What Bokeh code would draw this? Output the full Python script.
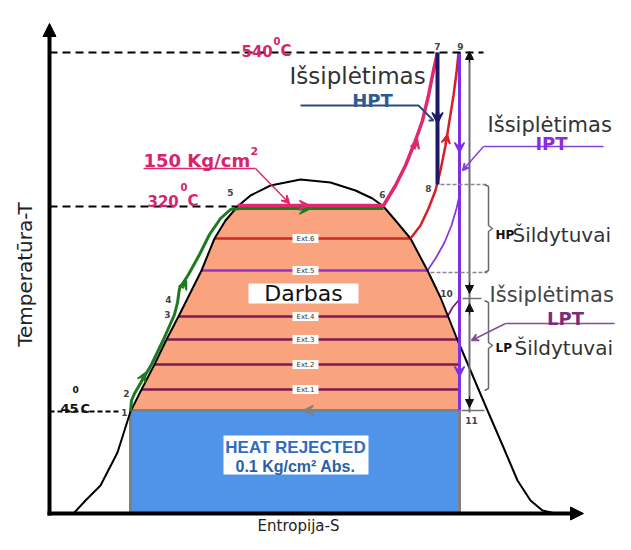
import math
from bokeh.plotting import figure
from bokeh.models import Range1d, Arrow, VeeHead, NormalHead, ColumnDataSource
from bokeh.embed import file_html
from bokeh.resources import INLINE
from bokeh.core.properties import value

# ---------------- data (entropy S, temperature T in diagram units) ----------------
T_TOP = 498      # 540 C line
T_EVAP = 344     # 320 C / 150 kg/cm2
T_COND = 139     # 45 C
T_BASE = 37      # axis origin
S_AXIS = 49

DOME_S = [73, 85, 100, 117, 130, 141, 154, 166, 178, 201, 214, 225, 237, 250, 270, 300, 330, 355, 372,
          383, 395, 410, 427, 440, 456, 470, 487, 503, 517, 530, 542, 555]
DOME_T = [37, 50, 65, 98, 139, 161, 186, 211, 234, 280, 312, 330, 344, 355, 365, 371, 368, 360, 352,
          344, 330, 312, 280, 253, 213, 180, 140, 103, 70, 50, 40, 37]

WORK_S = [130, 141, 154, 166, 178, 201, 214, 225, 237, 383, 395, 410, 427, 440, 456, 458, 458]
WORK_T = [140, 161, 186, 211, 234, 280, 312, 330, 344, 344, 330, 312, 280, 253, 213, 209, 140]

REJ_LEFT, REJ_RIGHT, REJ_TOP = 130, 459, 140

EXT_NAMES = ["Ext.1", "Ext.2", "Ext.3", "Ext.4", "Ext.5", "Ext.6"]
EXT_T = [161, 186, 211, 234, 280, 312]
EXT_S0 = [141, 154, 166, 178, 201, 214]
EXT_S1 = [458, 458, 458, 447, 427, 410]
EXT_COLORS = ["#7a1d4f", "#7a1d4f", "#7a1d4f", "#7a1d4f", "#9932cc", "#cc2a20"]

FEED_S = [130, 131, 134, 151, 163, 174, 177, 179, 188, 199, 209, 220, 230, 240, 383]
FEED_T = [139, 150, 157, 186, 211, 236, 248, 262, 276, 296, 316, 332, 341, 342, 342]

SUPER_S = [237, 383, 395, 405, 415, 422, 428, 433, 437]
SUPER_T = [345, 345, 365, 385, 410, 430, 455, 480, 498]

REHEAT_S = [410, 420, 428, 435, 440, 445, 449, 453, 456, 458]
REHEAT_T = [312, 325, 342, 360, 380, 405, 430, 455, 478, 498]

BLEED5_S = [427, 435, 444, 451, 456, 459]
BLEED5_T = [280, 292, 308, 325, 342, 355]
BLEED4_S = [447, 452, 458]
BLEED4_T = [234, 243, 250]

S_HPT, T_HPT_END = 437, 366     # 7 -> 8
S_IPT, T_IPT_END = 459, 140     # 9 -> 11
S_SCALE = 469
T_HP_LOW, T_LP_SPLIT, T_LP_LOW = 278, 252, 160

# ---------------- figure ----------------
p = figure(width=615, height=534, x_range=Range1d(0, 615), y_range=Range1d(16, 550),
           output_backend="svg", toolbar_location=None, x_axis_type=None, y_axis_type=None,
           min_border=0)
p.outline_line_color = None
p.background_fill_color = "white"
p.border_fill_color = "white"

FONT = value("DejaVu Sans")


def txt(x, y, s, size, color="#333333", style="normal", align="left", baseline="alphabetic",
        font="DejaVu Sans", angle=0.0):
    p.text(x=[x], y=[y], text=[s], text_font=value(font), text_font_size=value(size),
           text_font_style=style, text_color=color, text_align=align, text_baseline=baseline,
           angle=angle)


def heads(pts, color, size=10, kind="vee", width=2):
    xs = [a[0] for a in pts]
    ys = [a[1] for a in pts]
    xe = [a[2] for a in pts]
    ye = [a[3] for a in pts]
    src = ColumnDataSource(dict(xs=xs, ys=ys, xe=xe, ye=ye))
    if kind == "vee":
        h = VeeHead(size=size, fill_color=color, line_color=color, line_width=1.5)
    else:
        h = NormalHead(size=size, fill_color=color, line_color=color)
    p.add_layout(Arrow(end=h, x_start="xs", y_start="ys", x_end="xe", y_end="ye", source=src,
                       line_color=color, line_width=width))


# heat rejected area
p.quad(left=[REJ_LEFT], right=[REJ_RIGHT], bottom=[T_BASE], top=[REJ_TOP],
       fill_color="#4f94e8", line_color=None)
# work area
p.patch(WORK_S, WORK_T, fill_color="#f9a47f", line_color=None)

# borders of rejected area
p.line([REJ_LEFT, REJ_LEFT], [T_BASE, REJ_TOP], line_color="#808080", line_width=3)
p.line([REJ_RIGHT, REJ_RIGHT], [T_BASE, REJ_TOP], line_color="#808080", line_width=3)
p.line([REJ_LEFT, REJ_RIGHT], [REJ_TOP, REJ_TOP], line_color="#808080", line_width=3)
heads([(314, REJ_TOP, 303, REJ_TOP)], "#808080", size=10, width=3)

# extraction lines
for s0, s1, t, c in zip(EXT_S0, EXT_S1, EXT_T, EXT_COLORS):
    p.line([s0, s1], [t, t], line_color=c, line_width=2.5)
p.line(BLEED5_S, BLEED5_T, line_color="#8a3ad8", line_width=1.8)
p.line(BLEED4_S, BLEED4_T, line_color="#7a1d6f", line_width=1.8)

# saturation dome
p.line(DOME_S, DOME_T, line_color="black", line_width=2)

# feed water (green)
p.line(FEED_S, FEED_T, line_color="#1f7a1f", line_width=3)
heads([(140, 168, 145, 178), (182, 262, 186, 270), (298, 341, 308, 341)], "#1f7a1f", size=9)

# evaporation + superheat (pink)
p.line(SUPER_S, SUPER_T, line_color="#e0286f", line_width=3.5)
heads([(298, 345.5, 308, 345.5), (414, 401, 417, 411)], "#e0286f", size=9)

# reheat (red)
p.line(REHEAT_S, REHEAT_T, line_color="#d92027", line_width=2.5)
heads([(445, 406, 447, 416)], "#d92027", size=9)

# expansions
p.line([S_HPT, S_HPT], [T_TOP, T_HPT_END], line_color="#1c1a66", line_width=4)
heads([(S_HPT, 438, S_HPT, 427)], "#1c1a66", size=11, width=4)
p.line([S_IPT, S_IPT], [T_TOP, T_IPT_END], line_color="#7b2fe6", line_width=3)
heads([(S_IPT, 408, S_IPT, 398), (S_IPT, 184, S_IPT, 174)], "#7b2fe6", size=10, width=3)

# gray scale line with arrows
p.line([S_SCALE, S_SCALE], [T_TOP - 6, T_COND - 1], line_color="#707070", line_width=2)
heads([(S_SCALE, 488, S_SCALE, 499), (S_SCALE, 268, S_SCALE, 257), (S_SCALE, 236, S_SCALE, 247),
       (S_SCALE, 154, S_SCALE, 143)], "#111111", size=8, kind="normal", width=1)
p.line([462, 481], [T_LP_SPLIT, T_LP_SPLIT], line_color="#707070", line_width=1.5)
p.line([461, 484], [REJ_TOP, REJ_TOP], line_color="#707070", line_width=1.5)

# heater dashed levels and braces
p.line([440, 487], [T_HPT_END, T_HPT_END], line_color="#8a8a8a", line_width=1.5, line_dash="4 2")
p.line([430, 487], [T_HP_LOW, T_HP_LOW], line_color="#8a8a8a", line_width=1.5, line_dash="4 2")
p.line([484, 488, 488, 492, 488, 488, 484], [366, 364, 325, 322, 319, 280, 278],
       line_color="#6a6a6a", line_width=1.5)
p.line([484, 488, 488, 492, 488, 488, 484], [250, 248, 208, 205, 202, 162, 160],
       line_color="#6a6a6a", line_width=1.5)

# dashed temperature levels
p.line([S_AXIS, 483], [T_TOP, T_TOP], line_color="black", line_width=2, line_dash="8 5")
p.line([S_AXIS, 237], [T_EVAP, T_EVAP], line_color="black", line_width=2, line_dash="8 5")
p.line([S_AXIS, 120], [T_COND, T_COND], line_color="black", line_width=2, line_dash="5 3")

# axes (arrows)
p.add_layout(Arrow(end=NormalHead(size=13, fill_color="black", line_color="black"),
                   x_start=S_AXIS, y_start=T_BASE - 2, x_end=S_AXIS, y_end=527,
                   line_color="black", line_width=4))
p.add_layout(Arrow(end=NormalHead(size=13, fill_color="black", line_color="black"),
                   x_start=S_AXIS - 2, y_start=T_BASE, x_end=583, y_end=T_BASE,
                   line_color="black", line_width=4))

# label pointers
p.line([143, 255], [382, 382], line_color="#e0286f", line_width=1.5)
heads([(255, 382, 289, 347)], "#e0286f", size=8, width=1.5)
p.line([300, 418, 433, 428], [445, 445, 430, 430], line_color="#2d4b7a", line_width=2)
p.line([603, 483], [404, 404], line_color="#8a3ee0", line_width=1.5)
heads([(483, 404, 462, 380)], "#8a3ee0", size=7, width=1.5)
p.line([614, 505], [227, 227], line_color="#8a4a9a", line_width=1.5)
heads([(505, 227, 471, 210)], "#8a4a9a", size=7, width=1.5)

# boxes
p.rect(x=[305] * 6, y=EXT_T, width=26, height=9, fill_color="white", line_color=None)
p.text(x=[305] * 6, y=EXT_T, text=EXT_NAMES, text_font=FONT, text_font_size=value("7px"),
       text_color="#333333", text_align="center", text_baseline="middle")
p.quad(left=[248], right=[358], bottom=[247], top=[267], fill_color="white", line_color=None)
txt(303, 257, "Darbas", "22px", color="#111111", align="center", baseline="middle")
p.quad(left=[223], right=[368], bottom=[76], top=[115], fill_color="white", line_color=None)
txt(295, 103, "HEAT REJECTED", "17px", color="#2f6cc0", style="bold", align="center",
    baseline="middle", font="Liberation Sans")
txt(295, 84, "0.1 Kg/cm\u00b2 Abs.", "16px", color="#2a5fa8", style="bold", align="center",
    baseline="middle", font="Liberation Sans")

# temperature labels
MAG = "#d6246e"
txt(241, 500, "540", "15px", color=MAG, style="bold")
txt(273, 510, "0", "10px", color=MAG, style="bold")
txt(280, 500, "C", "15px", color=MAG, style="bold")
txt(143, 390, "150 Kg/cm", "18px", color=MAG, style="bold")
txt(250, 400, "2", "11px", color=MAG, style="bold")
txt(147, 350, "320", "15px", color=MAG, style="bold")
txt(180, 364, "0", "10px", color=MAG, style="bold")
txt(187, 350, "C", "15px", color=MAG, style="bold")
txt(60, 142, "45", "13px", color="#111111", style="bold")
txt(72, 161, "0", "9px", color="#111111", style="bold")
txt(80, 142, "C", "13px", color="#111111", style="bold")

# state point numbers
NUM = [("1", 124, 138), ("2", 126, 157), ("3", 167, 236), ("4", 168, 251), ("5", 230, 358),
       ("6", 382, 356), ("7", 437, 504), ("9", 460, 504), ("8", 428, 362), ("10", 446, 257),
       ("11", 471, 130)]
p.text(x=[n[1] for n in NUM], y=[n[2] for n in NUM], text=[n[0] for n in NUM], text_font=FONT,
       text_font_size=value("9px"), text_font_style="bold", text_color="#444444",
       text_align="center", text_baseline="middle")

# turbine / heater labels
txt(289, 475, "I\u0161siplėtimas", "23px", color="#333333")
txt(372, 450, "HPT", "18px", color="#2b5d94", style="bold", align="center")
txt(487, 426, "I\u0161siplėtimas", "21px", color="#333333")
txt(551, 407, "IPT", "18px", color="#8a2be2", style="bold", align="center")
txt(495, 316, "HP", "12px", color="#111111", style="bold")
txt(512, 316, "\u0160ildytuvai", "20px", color="#333333")
txt(489, 256, "I\u0161siplėtimas", "21px", color="#444444")
txt(565, 232, "LPT", "18px", color="#7b2d7b", style="bold", align="center")
txt(495, 203, "LP", "12px", color="#111111", style="bold")
txt(514, 203, "\u0160ildytuvai", "20px", color="#333333")

# axis titles
txt(24, 276, "Temperatūra-T", "20px", color="#222222", align="center", baseline="middle",
    angle=math.pi / 2)
txt(298, 25, "Entropija-S", "15px", color="#222222", align="center", baseline="alphabetic")

open("out.html", "w").write(file_html(p, INLINE))
